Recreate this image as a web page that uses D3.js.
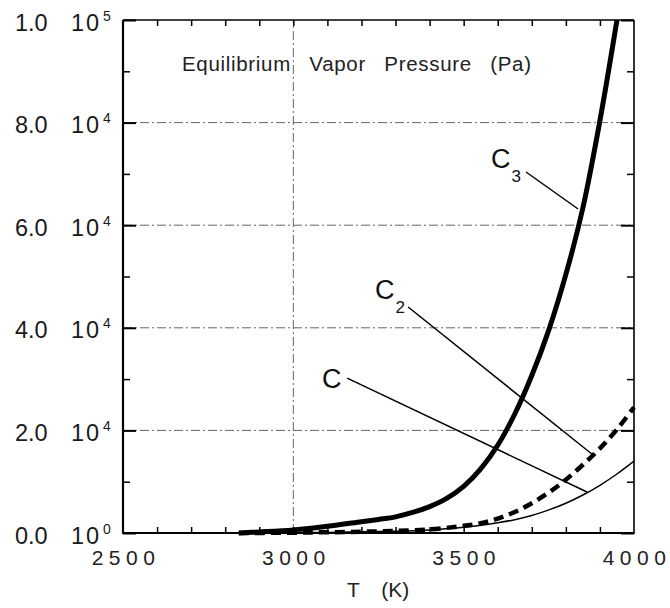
<!DOCTYPE html>
<html>
<head>
<meta charset="utf-8">
<script src="https://cdn.jsdelivr.net/npm/d3@7"></script>
<style>
  html, body { margin: 0; padding: 0; background: #fff; }
  svg { display: block; font-family: Arial, "Liberation Sans", Helvetica, sans-serif; }
</style>
</head>
<body>
<svg id="chart" width="670" height="608"></svg>
<script>
// ---- data ----
const tempC3 = [2840, 2900, 3000, 3100, 3200, 3250, 3300, 3350, 3400, 3450, 3500, 3550, 3600, 3650, 3700, 3750, 3800, 3850, 3900, 3950];
const presC3 = [0, 200, 600, 1300, 2200, 2650, 3150, 4000, 5150, 6750, 9100, 12500, 17100, 23200, 30700, 39600, 50400, 63400, 80400, 100000];

const tempC2 = [2840, 3000, 3100, 3200, 3300, 3400, 3450, 3500, 3550, 3600, 3650, 3700, 3750, 3800, 3850, 3900, 3950, 4000];
const presC2 = [0, 60, 150, 250, 400, 700, 1000, 1400, 1900, 2800, 4100, 5800, 7900, 10400, 13300, 16500, 20200, 24500];

const tempC1 = [2840, 3000, 3100, 3200, 3300, 3400, 3500, 3600, 3650, 3700, 3750, 3800, 3850, 3900, 3950, 4000];
const presC1 = [0, 50, 120, 220, 350, 600, 1100, 2000, 2600, 3400, 4500, 5800, 7400, 9300, 11500, 14000];

const xTickLabels = [2500, 3000, 3500, 4000];
const xMinorTicks = d3.range(2600, 4000, 100);
const yTickValues = [0, 20000, 40000, 60000, 80000, 100000];
const yMantissa = ["0.0", "2.0", "4.0", "6.0", "8.0", "1.0"];
const yExponent = ["0", "4", "4", "4", "4", "5"];
const yMinorTicks = [10000, 30000, 50000, 70000, 90000];
const xGrid = [3000];
const yGrid = [20000, 40000, 60000, 80000];

const titleText = "Equilibrium Vapor Pressure (Pa)";
const xAxisTitle = "T (K)";

// annotation labels (data units)
const labelNames = ["C", "C", "C"];
const labelSubs = ["3", "2", ""];
const labelPos = [[3583, 71150], [3243, 45600], [3087, 28270]];
const leaderFrom = [[3683, 70370], [3337, 44050], [3158, 30200]];
const leaderTo = [[3836, 63160], [3880, 15200], [3862, 7990]];

// ---- layout ----
const W = 670, H = 608;
const margin = { top: 20, right: 36, bottom: 75, left: 123 };
const svg = d3.select("#chart");

const x = d3.scaleLinear().domain([2500, 4000]).range([margin.left, W - margin.right]);
const y = d3.scaleLinear().domain([0, 100000]).range([H - margin.bottom, margin.top]);

const x0 = x.range()[0], x1 = x.range()[1];
const y0 = y.range()[0], y1 = y.range()[1];

// grid lines (dash-dot)
const grid = svg.append("g").attr("stroke", "#666").attr("stroke-width", 1)
  .attr("stroke-dasharray", "9,3,2,3").attr("fill", "none");
grid.selectAll("line.h").data(yGrid).join("line").attr("class", "h")
  .attr("x1", x0).attr("x2", x1).attr("y1", d => y(d)).attr("y2", d => y(d));
grid.selectAll("line.v").data(xGrid).join("line").attr("class", "v")
  .attr("x1", d => x(d)).attr("x2", d => x(d)).attr("y1", y0).attr("y2", y1);

// axes ticks (inward)
const bottomAxis = d3.axisBottom(x).tickValues(xMinorTicks).tickSize(-6).tickFormat("");
const topAxis = d3.axisTop(x).tickValues(xMinorTicks).tickSize(-6).tickFormat("");
const leftMajor = d3.axisLeft(y).tickValues(yTickValues).tickSize(-13).tickFormat("");
const leftMinor = d3.axisLeft(y).tickValues(yMinorTicks).tickSize(-7).tickFormat("");
const rightMajor = d3.axisRight(y).tickValues(yTickValues).tickSize(-13).tickFormat("");
const rightMinor = d3.axisRight(y).tickValues(yMinorTicks).tickSize(-7).tickFormat("");

function styleAxis(g, w) {
  g.select(".domain").remove();
  g.selectAll(".tick line").attr("stroke", "#000").attr("stroke-width", w);
}
svg.append("g").attr("transform", `translate(0,${y0})`).call(bottomAxis).call(g => styleAxis(g, 1.5));
svg.append("g").attr("transform", `translate(0,${y1})`).call(topAxis).call(g => styleAxis(g, 1.5));
svg.append("g").attr("transform", `translate(${x0},0)`).call(leftMajor).call(g => styleAxis(g, 2));
svg.append("g").attr("transform", `translate(${x0},0)`).call(leftMinor).call(g => styleAxis(g, 1.5));
svg.append("g").attr("transform", `translate(${x1},0)`).call(rightMajor).call(g => styleAxis(g, 2));
svg.append("g").attr("transform", `translate(${x1},0)`).call(rightMinor).call(g => styleAxis(g, 1.5));

// frame
const frame = svg.append("g").attr("stroke", "#000").attr("fill", "none");
frame.append("line").attr("x1", x0).attr("x2", x1).attr("y1", y0).attr("y2", y0).attr("stroke-width", 2.2);
frame.append("line").attr("x1", x0).attr("x2", x0).attr("y1", y0 + 1).attr("y2", y1).attr("stroke-width", 2.2);
frame.append("line").attr("x1", x0).attr("x2", x1).attr("y1", y1).attr("y2", y1).attr("stroke-width", 1.6);
frame.append("line").attr("x1", x1).attr("x2", x1).attr("y1", y0 + 1).attr("y2", y1).attr("stroke-width", 1.6);

// x tick labels
svg.append("g").selectAll("text").data(xTickLabels).join("text")
  .attr("x", d => x(d) + 3).attr("y", y0 + 32)
  .attr("text-anchor", "middle").attr("font-size", 21).attr("letter-spacing", 5.5)
  .attr("fill", "#222").text(d => d);

// y tick labels: mantissa and power of ten
const yl = svg.append("g").attr("fill", "#1a1a1a");
yl.selectAll("text.m").data(yTickValues).join("text").attr("class", "m")
  .attr("x", 15).attr("y", d => y(d) + 10.5).attr("font-size", 23.5)
  .text((d, i) => yMantissa[i]);
yl.selectAll("text.b").data(yTickValues).join("text").attr("class", "b")
  .attr("x", 71).attr("y", d => y(d) + 10.5).attr("font-size", 23.5).attr("letter-spacing", 2)
  .text("10");
yl.selectAll("text.e").data(yTickValues).join("text").attr("class", "e")
  .attr("x", 103).attr("y", d => y(d) + 0.5).attr("font-size", 14)
  .text((d, i) => yExponent[i]);

// title
svg.append("text").attr("x", 182).attr("y", 71).attr("font-size", 20.5)
  .attr("word-spacing", 12).attr("fill", "#222")
  .attr("textLength", 349).attr("lengthAdjust", "spacing").text(titleText);

// x axis title
svg.append("text").attr("x", 347).attr("y", 597).attr("font-size", 21)
  .attr("word-spacing", 16).attr("fill", "#222").text(xAxisTitle);

// curves
const line = d3.line().x(d => x(d[0])).y(d => y(d[1])).curve(d3.curveCatmullRom.alpha(0.5));
const plot = svg.append("g").attr("fill", "none").attr("stroke", "#000");
plot.append("path").datum(d3.zip(tempC1, presC1)).attr("d", line).attr("stroke-width", 1.5);
plot.append("path").datum(d3.zip(tempC2, presC2)).attr("d", line).attr("stroke-width", 4.5)
  .attr("stroke-dasharray", "10,6");
plot.append("path").datum(d3.zip(tempC3, presC3)).attr("d", line).attr("stroke-width", 5);

// leader lines
svg.append("g").attr("stroke", "#000").attr("stroke-width", 1.5).selectAll("line")
  .data(d3.range(labelNames.length)).join("line")
  .attr("x1", i => x(leaderFrom[i][0])).attr("y1", i => y(leaderFrom[i][1]))
  .attr("x2", i => x(leaderTo[i][0])).attr("y2", i => y(leaderTo[i][1]));

// labels
const lab = svg.append("g").selectAll("text").data(d3.range(labelNames.length)).join("text")
  .attr("x", i => x(labelPos[i][0]) - 1).attr("y", i => y(labelPos[i][1]))
  .attr("font-size", 27).attr("fill", "#111");
lab.append("tspan").text(i => labelNames[i]);
lab.append("tspan").attr("dy", 14).attr("dx", 1).attr("font-size", 17).text(i => labelSubs[i]);
</script>
</body>
</html>
